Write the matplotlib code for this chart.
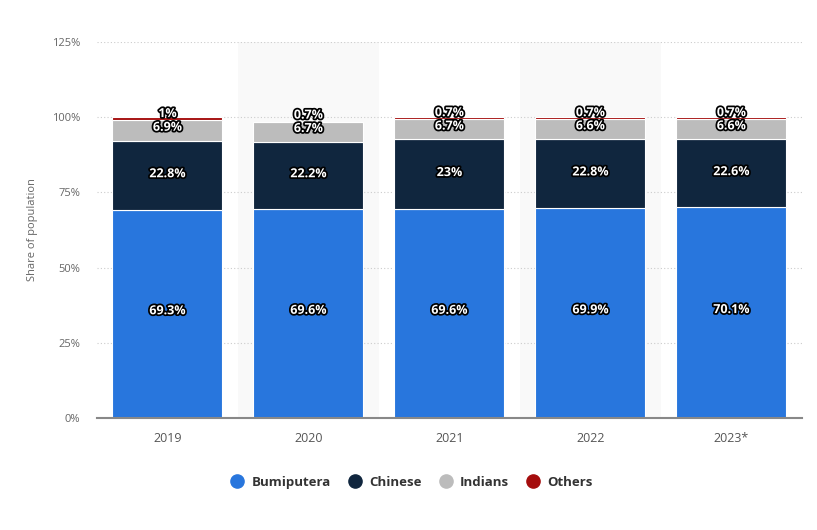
import numpy as np
import matplotlib.pyplot as plt
import matplotlib.patheffects as pe
from matplotlib.lines import Line2D

plt.rcParams['font.family'] = ['Open Sans', 'DejaVu Sans']

years = ["2019", "2020", "2021", "2022", "2023*"]
bumiputera = [69.3, 69.6, 69.6, 69.9, 70.1]
chinese = [22.8, 22.2, 23, 22.8, 22.6]
indians = [6.9, 6.7, 6.7, 6.6, 6.6]
others = [1, 0.7, 0.7, 0.7, 0.7]
# 2020 shows a label but no visible segment
others_drawn = [1, 0, 0.7, 0.7, 0.7]

colors = {"Bumiputera": "#2876dd", "Chinese": "#10263e",
          "Indians": "#bcbcbc", "Others": "#a50d0d"}

fig = plt.figure(figsize=(8.17, 5.30), dpi=100)
ax = fig.add_axes([0.1187, 0.2113, 0.8629, 0.7095])

x = np.arange(len(years))
w = 0.78

# alternating column shading
for i in x:
    if i % 2 == 1:
        ax.axvspan(i - 0.5, i + 0.5, color="#f9f9f9", zorder=0, lw=0)

b1 = np.array(bumiputera)
b2 = b1 + np.array(chinese)
b3 = b2 + np.array(indians)

kw = dict(width=w, edgecolor="white", linewidth=0.8, zorder=3)
ax.bar(x, bumiputera, color=colors["Bumiputera"], **kw)
ax.bar(x, chinese, bottom=b1, color=colors["Chinese"], **kw)
ax.bar(x, indians, bottom=b2, color=colors["Indians"], **kw)
ax.bar(x, others_drawn, bottom=b3, color=colors["Others"], **kw)

def fmt(v):
    return f"{v:g}%"

stroke = [pe.withStroke(linewidth=2.5, foreground="black")]
tkw = dict(ha="center", va="center", color="white", fontsize=9,
           fontweight="bold", path_effects=stroke, zorder=5)
for i in x:
    ax.text(i, bumiputera[i] / 2 + 1, fmt(bumiputera[i]), **tkw)
    ax.text(i, b1[i] + chinese[i] / 2 + 0.5, fmt(chinese[i]), **tkw)
    ax.text(i, b2[i] + indians[i] / 2 + 1.1, fmt(indians[i]), **tkw)
    ax.text(i, b3[i] + 2.2, fmt(others[i]), **tkw)

ax.set_xlim(-0.5, len(years) - 0.5)
ax.set_ylim(0, 125)
ax.set_yticks([0, 25, 50, 75, 100, 125])
ax.set_yticklabels([f"{t}%" for t in [0, 25, 50, 75, 100, 125]])
ax.set_xticks(x)
ax.set_xticklabels(years)
ax.tick_params(axis="y", length=0, pad=12, labelsize=8, colors="#666666")
ax.tick_params(axis="x", length=0, pad=10, labelsize=9, colors="#555555")
ax.grid(axis="y", color="#cccccc", linestyle=(0, (1, 2)), linewidth=0.8, zorder=1)
for s in ["top", "right", "left"]:
    ax.spines[s].set_visible(False)
ax.spines["bottom"].set_color("#888888")
ax.spines["bottom"].set_linewidth(1.5)
ax.spines["bottom"].set_zorder(4)
ax.set_ylabel("Share of population", fontsize=8, color="#666666", labelpad=10)

handles = [Line2D([], [], marker="o", linestyle="", markersize=9.5,
                  color=c) for c in colors.values()]
fig.legend(handles, list(colors.keys()), loc="center", ncol=4,
           bbox_to_anchor=(0.5, 0.09), frameon=False, handletextpad=0.1,
           columnspacing=0.8, prop={"weight": "bold", "size": 9.5},
           labelcolor="#333333")

fig.savefig("out.png", dpi=100)
